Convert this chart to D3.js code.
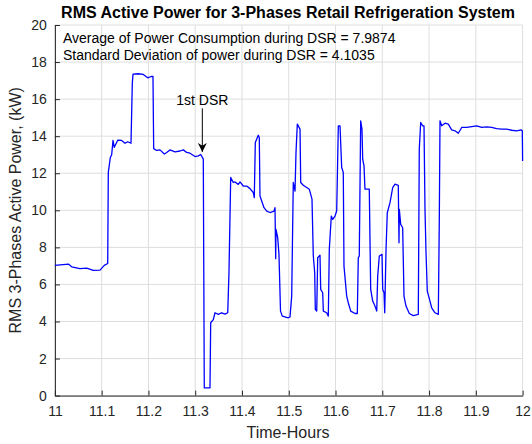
<!DOCTYPE html>
<html>
<head>
<meta charset="utf-8">
<script src="https://cdn.jsdelivr.net/npm/d3@7"></script>
<style>
  body { margin: 0; background: #fff; }
  svg text { font-family: "Liberation Sans", Arial, sans-serif; }
</style>
</head>
<body>
<div id="chart"></div>
<script>
// time (hours) and RMS active power (kW)
var hours = [11.000, 11.0287, 11.0359, 11.0537, 11.068, 11.0821, 11.0964, 11.1056, 11.1129, 11.1142,
  11.1185, 11.1214, 11.1242, 11.127, 11.1343, 11.1428, 11.1499, 11.1557, 11.1627, 11.1655, 11.167,
  11.1783, 11.189, 11.1984, 11.2055, 11.2097, 11.2112, 11.2177, 11.2247, 11.2339, 11.239, 11.2461,
  11.2568, 11.2675, 11.2745, 11.2818, 11.2889, 11.2996, 11.3066, 11.3117, 11.316, 11.3173, 11.3194,
  11.3316, 11.3331, 11.3387, 11.3423, 11.3494, 11.3566, 11.3637, 11.3695, 11.3722, 11.3759, 11.3814,
  11.3851, 11.3921, 11.3958, 11.4028, 11.4101, 11.4171, 11.4242, 11.4263, 11.4285, 11.4349, 11.437,
  11.4385, 11.4471, 11.4529, 11.4599, 11.4685, 11.4706, 11.4721, 11.4727, 11.4764, 11.4791, 11.4824,
  11.4862, 11.499, 11.5027, 11.5063, 11.5097, 11.5134, 11.5155, 11.5183, 11.5241, 11.5256, 11.5311,
  11.5384, 11.5439, 11.5497, 11.5525, 11.5555, 11.5568, 11.5598, 11.5619, 11.5668, 11.5683, 11.5726,
  11.5739, 11.5811, 11.5846, 11.5867, 11.591, 11.594, 11.5989, 11.6025, 11.606, 11.6096, 11.6132,
  11.6166, 11.6181, 11.6239, 11.6273, 11.6325, 11.6417, 11.6466, 11.6487, 11.6508, 11.6538, 11.6566,
  11.6581, 11.6609, 11.663, 11.6722, 11.6752, 11.6795, 11.6844, 11.6881, 11.6902, 11.6936, 11.6994,
  11.7009, 11.7037, 11.7052, 11.708, 11.7107, 11.7165, 11.7223, 11.7272, 11.7342, 11.7357, 11.7364,
  11.7394, 11.7436, 11.7464, 11.7507, 11.7578, 11.7663, 11.777, 11.7791, 11.7821, 11.7864, 11.7892,
  11.7913, 11.7935, 11.7962, 11.802, 11.8056, 11.8127, 11.8198, 11.8219, 11.8234, 11.827, 11.8341,
  11.8411, 11.8484, 11.8555, 11.8625, 11.8698, 11.8805, 11.8912, 11.9019, 11.9126, 11.9232, 11.9339,
  11.9446, 11.9553, 11.966, 11.9767, 11.9874, 11.9966, 11.9994, 12.000];

var power = [7.03, 7.10, 6.95, 6.85, 6.88, 6.76, 6.77, 7.03, 7.13, 12.05,
  12.85, 13.00, 13.77, 13.40, 13.78, 13.77, 13.62, 13.70, 13.62, 16.86, 17.35,
  17.37, 17.33, 17.15, 17.22, 17.22, 13.33, 13.23, 13.26, 13.04, 13.12, 13.26,
  13.15, 13.20, 13.26, 13.12, 13.08, 12.90, 12.94, 13.01, 12.83, 12.76, 0.42,
  0.42, 3.93, 4.10, 4.47, 4.38, 4.47, 4.40, 4.47, 6.63, 11.77, 11.50,
  11.53, 11.40, 11.53, 11.31, 11.31, 11.17, 10.96, 10.68, 13.66, 14.05, 13.93,
  10.77, 10.14, 9.96, 9.88, 9.95, 10.14, 7.39, 8.97, 8.52, 7.62, 4.56,
  4.29, 4.20, 4.25, 5.37, 11.50, 11.04, 13.12, 14.65, 14.38, 11.50, 11.35,
  11.23, 11.14, 10.60, 7.53, 6.63, 4.65, 4.56, 7.44, 7.58, 5.73, 5.55,
  4.56, 4.47, 4.29, 7.89, 9.69, 9.51, 9.69, 9.96, 14.56, 14.56, 12.31,
  12.04, 6.99, 5.37, 5.01, 4.56, 4.43, 4.43, 7.44, 7.53, 14.83, 14.38,
  12.76, 12.40, 11.14, 11.14, 5.73, 5.10, 4.83, 4.56, 6.45, 7.53, 7.62,
  5.73, 5.55, 4.47, 7.89, 9.87, 10.41, 11.23, 11.41, 11.35, 8.25, 10.05,
  9.24, 9.06, 5.37, 4.83, 4.43, 4.32, 4.38, 13.30, 14.74, 14.56, 14.56,
  10.05, 7.71, 5.64, 5.10, 4.74, 4.47, 4.38, 9.51, 14.83, 14.56, 14.70,
  14.65, 14.34, 14.29, 14.16, 14.47, 14.47, 14.52, 14.56, 14.47, 14.50, 14.47,
  14.41, 14.38, 14.38, 14.32, 14.29, 14.34, 14.29, 12.66];

var xTicks = [11, 11.1, 11.2, 11.3, 11.4, 11.5, 11.6, 11.7, 11.8, 11.9, 12];
var yTicks = [0, 2, 4, 6, 8, 10, 12, 14, 16, 18, 20];

var titleText = "RMS Active Power for 3-Phases Retail Refrigeration System";
var infoLines = ["Average of Power Consumption during DSR = 7.9874",
                 "Standard Deviation of power during DSR = 4.1035"];
var dsrLabel = "1st DSR";
var dsrHour = 11.3152;   // arrow position
var dsrTip = 13.15, dsrTail = 15.5;

var width = 532, height = 444;
var margin = {top: 25, right: 9.4, bottom: 48.4, left: 54.9};

var svg = d3.select("#chart").append("svg")
  .attr("width", width)
  .attr("height", height);

var x = d3.scaleLinear()
  .domain([11, 12])
  .range([margin.left, width - margin.right]);

var y = d3.scaleLinear()
  .domain([0, 20])
  .range([height - margin.bottom, margin.top]);

// grid
svg.append("g")
  .selectAll("line")
  .data(xTicks)
  .enter().append("line")
    .attr("x1", x).attr("x2", x)
    .attr("y1", y(0)).attr("y2", y(20))
    .attr("stroke", "#dedede")
    .attr("stroke-width", 1);

svg.append("g")
  .selectAll("line")
  .data(yTicks)
  .enter().append("line")
    .attr("x1", x(11)).attr("x2", x(12))
    .attr("y1", y).attr("y2", y)
    .attr("stroke", "#dedede")
    .attr("stroke-width", 1);

// axes (ticks pointing inward, MATLAB style)
var xAxis = svg.append("g")
  .attr("transform", "translate(0," + y(0) + ")")
  .call(d3.axisBottom(x).tickValues(xTicks).tickSizeInner(-5).tickSizeOuter(0)
        .tickPadding(10).tickFormat(d3.format("")));

var yAxis = svg.append("g")
  .attr("transform", "translate(" + x(11) + ",0)")
  .call(d3.axisLeft(y).tickValues(yTicks).tickSizeInner(-5).tickSizeOuter(0)
        .tickPadding(8));

[xAxis, yAxis].forEach(function(a) {
  a.select(".domain").attr("stroke", "#262626");
  a.selectAll(".tick line").attr("stroke", "#262626");
  a.selectAll(".tick text")
    .attr("fill", "#262626")
    .style("font-size", "14px")
    .style("font-family", "'Liberation Sans', Arial, sans-serif");
});

// power line
var line = d3.line()
  .x(function(d, i) { return x(hours[i]); })
  .y(function(d) { return y(d); });

svg.append("path")
  .datum(power)
  .attr("fill", "none")
  .attr("stroke", "#0000ff")
  .attr("stroke-width", 1.3)
  .attr("stroke-linejoin", "round")
  .attr("d", line);

// title + axis labels
svg.append("text")
  .attr("x", 288)
  .attr("y", 18)
  .attr("text-anchor", "middle")
  .style("font-size", "16px")
  .style("font-weight", "bold")
  .attr("fill", "#000")
  .text(titleText);

svg.append("text")
  .attr("x", 288)
  .attr("y", 438)
  .attr("text-anchor", "middle")
  .style("font-size", "16px")
  .attr("fill", "#262626")
  .text("Time-Hours");

svg.append("text")
  .attr("transform", "translate(21," + y(10) + ") rotate(-90)")
  .attr("text-anchor", "middle")
  .style("font-size", "16px")
  .attr("fill", "#262626")
  .text("RMS 3-Phases Active Power, (kW)");

// info text
svg.append("g")
  .selectAll("text")
  .data(infoLines)
  .enter().append("text")
    .attr("x", 63)
    .attr("y", function(d, i) { return 43 + i * 17; })
    .style("font-size", "14px")
    .attr("fill", "#000")
    .text(function(d) { return d; });

// DSR annotation
svg.append("defs").append("marker")
  .attr("id", "arrow")
  .attr("viewBox", "0 0 10 10")
  .attr("refX", 10).attr("refY", 5)
  .attr("markerWidth", 9).attr("markerHeight", 9)
  .attr("markerUnits", "userSpaceOnUse")
  .attr("orient", "auto")
  .append("path")
    .attr("d", "M0,0 L10,5 L0,10 L3,5 Z")
    .attr("fill", "#000");

svg.append("line")
  .attr("x1", x(dsrHour)).attr("x2", x(dsrHour))
  .attr("y1", y(dsrTail)).attr("y2", y(dsrTip))
  .attr("stroke", "#000")
  .attr("stroke-width", 1)
  .attr("marker-end", "url(#arrow)");

svg.append("text")
  .attr("x", x(dsrHour))
  .attr("y", y(dsrTail) - 3)
  .attr("text-anchor", "middle")
  .style("font-size", "14px")
  .attr("fill", "#000")
  .text(dsrLabel);
</script>
</body>
</html>
